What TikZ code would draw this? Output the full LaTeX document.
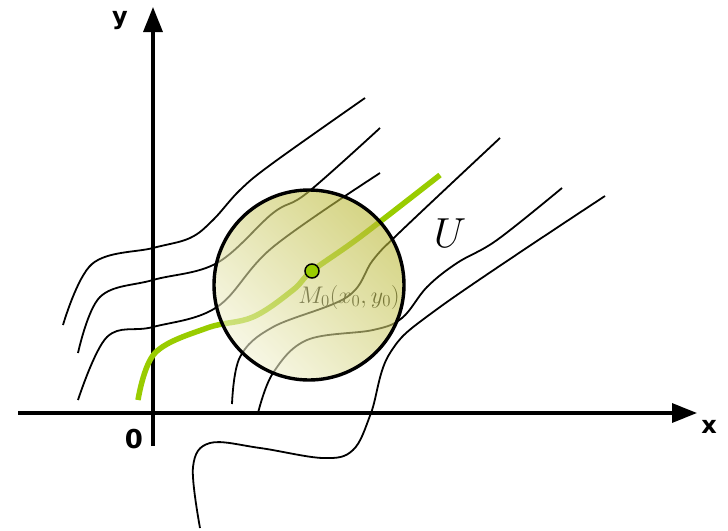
\documentclass[tikz,border=0pt]{standalone}
\usepackage{fix-cm}
\usepackage{fontspec}
\newfontfamily\axfont{DejaVu Sans}
\usetikzlibrary{arrows.meta}
\definecolor{lgreen}{HTML}{99CC00}
\definecolor{olive}{RGB}{186,184,52}
\definecolor{cream}{RGB}{242,242,212}
\tikzset{
  axis/.style={line width=3.3pt,-{Triangle[length=25pt,width=19pt]}},
  level/.style={line width=1.8pt,line join=round},
  gcurve/.style={line width=5.5pt,lgreen},
  axlabel/.style={font=\axfont\bfseries\fontsize{24}{26}\selectfont,inner sep=0pt},
}
\begin{document}
\begin{tikzpicture}[x=1pt,y=-1pt]
\useasboundingbox (0,0) rectangle (728,530);
% axes
\coordinate (xs) at (18,413);
\coordinate (xe) at (697,413);
\coordinate (ys) at (153,446);
\coordinate (ye) at (153,7);
\draw[axis] (xs) -- (xe);
\draw[axis] (ys) -- (ye);
\node[axlabel] (ylab) at (120,21) {y};
\node[axlabel] (xlab) at (709,427) {x};
\node[axlabel,font=\axfont\bfseries\fontsize{26}{28}\selectfont] (olab) at (134,439) {0};
% level curves
\draw[level] plot[smooth,tension=0.6] coordinates {(63,325) (92,264) (153,248) (190,238) (213,220) (240,190) (273,163) (365,98)};
\draw[level] plot[smooth,tension=0.6] coordinates {(78,353) (100,297) (153,280) (217,263) (273,213) (307,193) (380,128)};
\draw[level] plot[smooth,tension=0.6] coordinates {(78,400) (107,337) (153,327) (217,307) (273,247) (380,173)};
\draw[level] plot[smooth,tension=0.6] coordinates {(232,404) (240,357) (273,327) (347,297) (373,260) (400,232) (500,138)};
\draw[level] plot[smooth,tension=0.6] coordinates {(258,413) (273,373) (307,340) (373,330) (402,318) (427,287) (457,263) (497,240) (562,188)};
\draw[level] plot[smooth,tension=0.6] coordinates {(200,528) (193,467) (210,443) (260,448) (323,458) (353,450) (371,413) (390,353) (440,307) (605,196)};
% green curve
\draw[gcurve] plot[smooth,tension=0.6] coordinates {(138,400) (155,353) (207,328) (253,317) (293,290) (312,271) (360,237) (440,175)};
% label M0
\node[inner sep=0pt,font=\fontsize{24}{26}\selectfont] (mlab) at (349,297) {$M_0(x_0,y_0)$};
% neighbourhood U
\coordinate (c) at (309,285);
\shade[top color=olive,bottom color=cream,shading angle=-45,fill opacity=0.6] (c) circle[radius=95];
\draw[line width=3.4pt] (c) circle[radius=95];
\node[inner sep=0pt,font=\fontsize{42}{44}\selectfont] (ulab) at (450,233) {$U$};
% point
\node[circle,draw=black,line width=1.5pt,fill=lgreen,minimum size=14pt,inner sep=0pt] (m0) at (312,271) {};
\end{tikzpicture}
\end{document}
